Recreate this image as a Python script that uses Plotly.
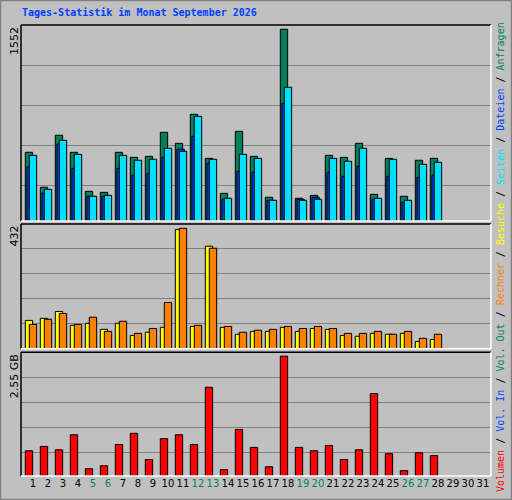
import plotly.graph_objects as go

days = list(range(1, 32))
data_days = list(range(1, 29))
hits  = [544,267,679,544,235,227,544,504,512,702,615,845,496,219,710,512,188,1518,180,203,520,504,615,211,496,196,481,496]
files = [428,222,610,417,196,196,417,362,378,504,568,671,457,172,394,386,164,932,172,188,386,354,433,172,354,148,346,362]
pages = [520,251,639,528,196,203,520,481,489,576,552,829,489,180,528,496,164,1059,164,172,496,473,576,180,489,164,449,465]
visits = [98,105,129,81,88,67,88,46,57,74,413,77,355,74,50,60,60,74,60,70,67,46,43,53,50,53,25,32]
sites  = [84,102,122,84,109,60,95,53,70,160,417,81,348,77,57,64,67,77,70,77,70,53,53,60,50,60,36,50]
volume_gb = [0.52,0.61,0.54,0.85,0.15,0.21,0.65,0.88,0.34,0.77,0.85,0.65,1.83,0.13,0.96,0.59,0.19,2.47,0.59,0.52,0.63,0.34,0.54,1.70,0.46,0.11,0.48,0.42]
weekend = [5,6,12,13,19,20,26,27]
max_hits, max_visits, max_vol = 1552, 432, 2.55

GREEN, BLUE, CYAN = "#00805C", "#0040FF", "#00E0FF"
YELLOW, ORANGE, RED = "#FFFF00", "#FF8000", "#FF0000"
BG, GRID = "#C0C0C0", "#808080"
W = 0.49
line = dict(color="black", width=1)

fig = go.Figure()
def bar(y, color, off, ya):
    fig.add_trace(go.Bar(x=data_days, y=y, marker=dict(color=color, line=line),
                         offset=off, width=W, xaxis="x", yaxis=ya, hoverinfo="skip"))
bar(hits, GREEN, -0.38, "y")
bar(files, BLUE, -0.27, "y")
bar(pages, CYAN, -0.113, "y")
bar(visits, YELLOW, -0.38, "y2")
bar(sites, ORANGE, -0.113, "y2")
bar(volume_gb, RED, -0.38, "y3")

ticktext = [f"<span style='color:{GREEN}'>{d}</span>" if d in weekend else str(d) for d in days]
yax = dict(showticklabels=False, ticks="", gridcolor=GRID, gridwidth=1, zeroline=False,
           showline=False, fixedrange=True)
fig.update_layout(
    width=512, height=500, margin=dict(l=21, r=21, t=25, b=24, autoexpand=False),
    paper_bgcolor=BG, plot_bgcolor=BG, barmode="overlay", showlegend=False,
    font=dict(family="DejaVu Sans Mono", size=11, color="black"),
    xaxis=dict(range=[0.333, 31.667], tickvals=[d + 0.13 for d in days], ticktext=ticktext, anchor="y3",
               showgrid=False, ticks="", zeroline=False, tickangle=0, automargin=False,
               tickfont=dict(size=10, family="DejaVu Sans"), fixedrange=True),
    yaxis=dict(domain=[0.5654, 1], range=[0, max_hits],
               tickvals=[max_hits*(1-k*40/196) for k in range(1, 5)], **yax),
    yaxis2=dict(domain=[0.2823, 0.5588], range=[0, max_visits],
                tickvals=[max_visits*k/5 for k in range(1, 5)], **yax),
    yaxis3=dict(domain=[0, 0.2743], range=[0, max_vol],
                tickvals=[max_vol*(1-k*25/123.4) for k in range(1, 5)], **yax),
)

for (y0, y1) in [(0.5654, 1), (0.2823, 0.5588), (0, 0.2743)]:
    fig.add_shape(type="line", xref="paper", yref="paper", x0=0, x1=1, y0=y1, y1=y1, line=dict(color="black", width=1.5))
    fig.add_shape(type="line", xref="paper", yref="paper", x0=0, x1=0, y0=y0, y1=y1, line=dict(color="black", width=1.5))
    fig.add_shape(type="line", xref="paper", yref="paper", x0=0, x1=1, y0=y0, y1=y0, line=dict(color="white", width=1.5))
    fig.add_shape(type="line", xref="paper", yref="paper", x0=1, x1=1, y0=y0, y1=y1, line=dict(color="white", width=1.5))
fig.add_shape(type="rect", xref="paper", yref="paper", x0=-20.5/470, x1=1+20.5/470, y0=-23.5/451, y1=1+24.5/451,
              line=dict(color="#808080", width=1.5))

fig.add_annotation(text="<b>Tages-Statistik im Monat September 2026</b>", xref="paper", yref="paper",
                   x=-1/470, y=1+13/451, xanchor="left", yanchor="middle", showarrow=False,
                   font=dict(color=BLUE, size=10, family="DejaVu Sans Mono"))
for label, ytop in [(str(max_hits), 1.0), (str(max_visits), 0.5588), (f"{max_vol} GB", 0.2743)]:
    fig.add_annotation(text=label, textangle=-90, xref="paper", yref="paper", x=-7/470, y=ytop,
                       xanchor="center", yanchor="top", showarrow=False, font=dict(size=11, family="DejaVu Sans"))

legend = " / ".join([f"<span style='color:{c}'>{t}</span>" for t, c in [
    ("Volumen", RED), ("Vol. In", BLUE), ("Vol. Out", GREEN), ("Rechner", ORANGE),
    ("Besuche", YELLOW), ("Seiten", CYAN), ("Dateien", BLUE), ("Anfragen", GREEN)]])
fig.add_annotation(text=legend, textangle=-90, xref="paper", yref="paper", x=1+9/470, y=(476-257)/451,
                   xanchor="center", yanchor="middle", showarrow=False,
                   font=dict(size=10, family="DejaVu Sans Mono", color="black"))

fig.write_html("out.html", config={"displayModeBar": False},
               post_script="document.body.style.margin='0';document.body.style.overflow='hidden';")
